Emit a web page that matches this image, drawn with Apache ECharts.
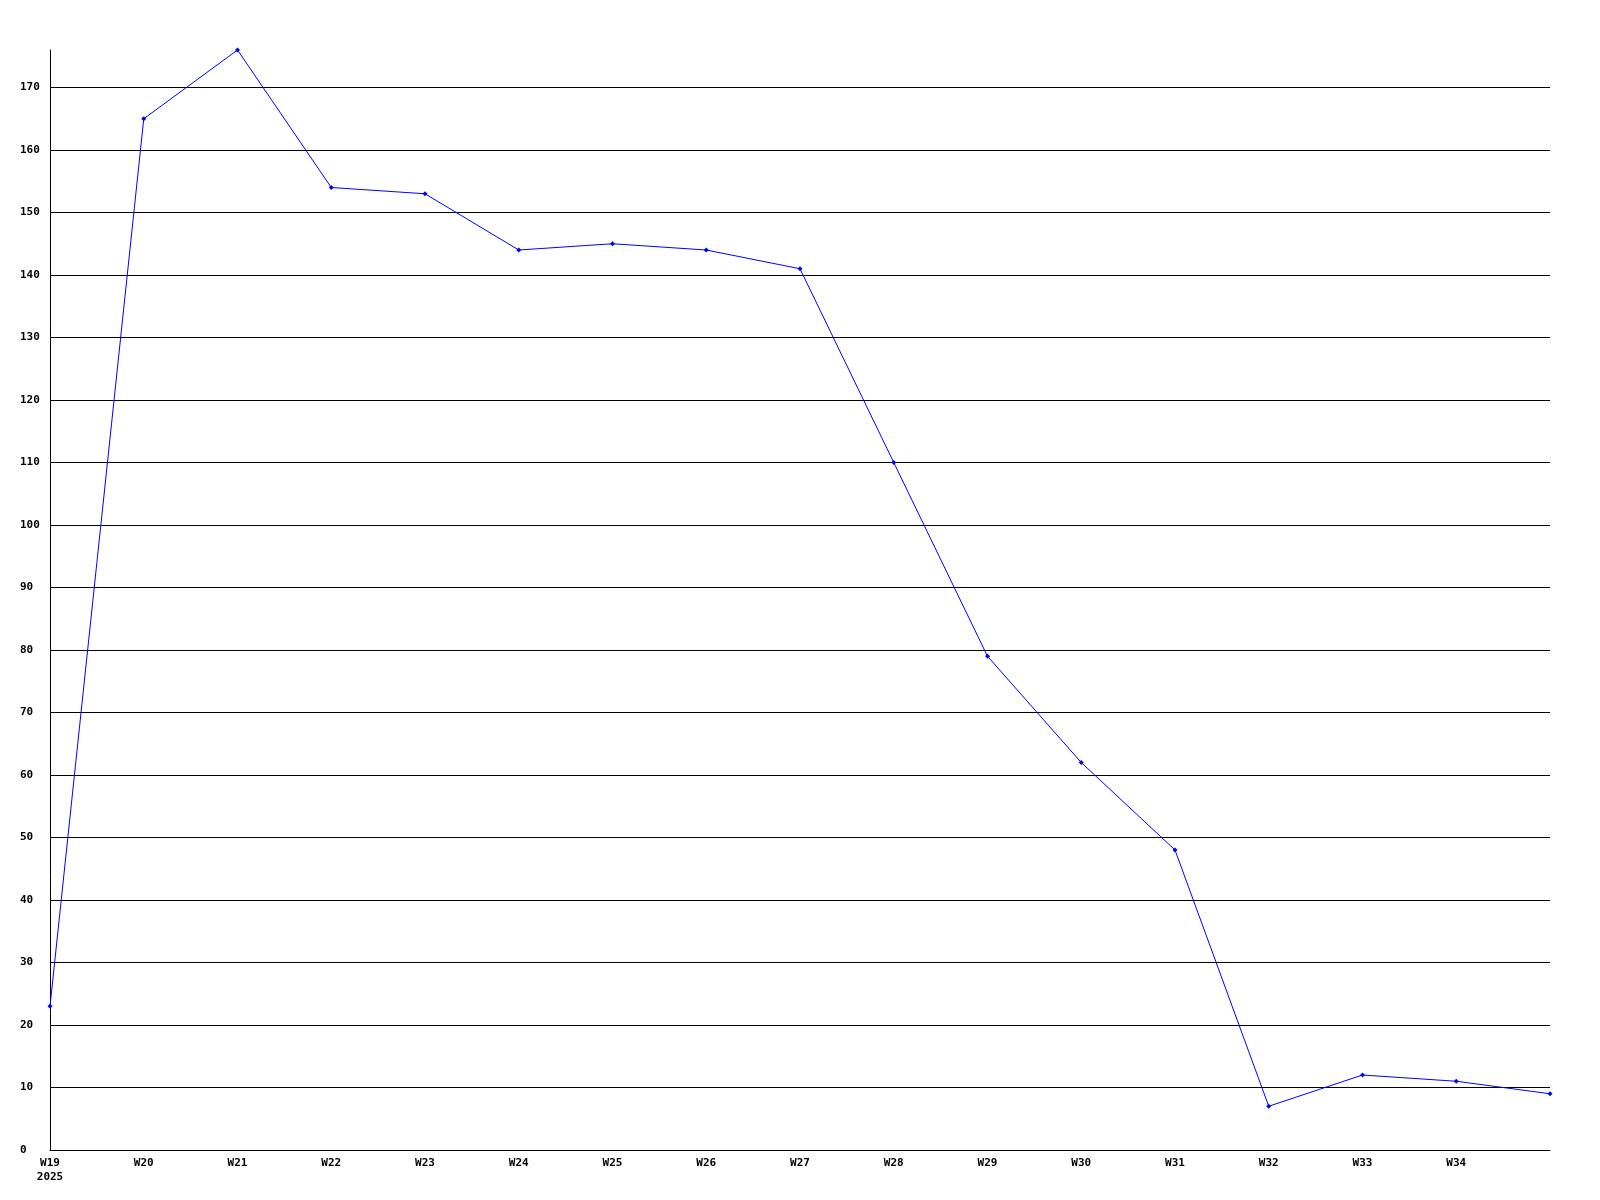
<!DOCTYPE html>
<html>
<head>
<meta charset="utf-8">
<script src="https://cdn.jsdelivr.net/npm/echarts@6/dist/echarts.min.js"></script>
<style>html,body{margin:0;padding:0;background:#fff}#c{width:1600px;height:1200px}</style>
</head>
<body>
<div id="c"></div>
<script>
const weeks = ['W19','W20','W21','W22','W23','W24','W25','W26','W27','W28','W29','W30','W31','W32','W33','W34','W35'];
const values = [23,165,176,154,153,144,145,144,141,110,79,62,48,7,12,11,9];
const yearLabel = '2025';

const splitColors = [];
for (let i = 0; i < 18; i++) splitColors.push('#000');
splitColors.push('rgba(0,0,0,0)');

const chart = echarts.init(document.getElementById('c'), null, {renderer: 'canvas'});
chart.setOption({
  animation: false,
  backgroundColor: '#fff',
  grid: {left: 50, right: 50, top: 50, bottom: 50, containLabel: false},
  xAxis: {
    type: 'category',
    data: weeks,
    boundaryGap: false,
    axisLine: {lineStyle: {color: '#000', width: 1}},
    axisTick: {show: false},
    splitLine: {show: false},
    axisLabel: {
      interval: 0,
      margin: 6,
      color: '#000',
      fontFamily: 'DejaVu Sans Mono',
      fontWeight: 'bold',
      fontSize: 11,
      lineHeight: 14,
      formatter: function (v, i) {
        if (i === weeks.length - 1) return '';
        if (i === 0) return v + '\n' + yearLabel;
        return v;
      }
    }
  },
  yAxis: {
    type: 'value',
    min: 0,
    max: 176,
    interval: 10,
    axisLine: {show: true, lineStyle: {color: '#000', width: 1}},
    axisTick: {show: false},
    splitLine: {show: true, lineStyle: {color: splitColors, width: 1}},
    axisLabel: {
      showMaxLabel: false,
      align: 'left',
      margin: 30,
      color: '#000',
      fontFamily: 'DejaVu Sans Mono',
      fontWeight: 'bold',
      fontSize: 11
    }
  },
  series: [{
    type: 'line',
    data: values,
    symbol: 'diamond',
    symbolSize: 5,
    showAllSymbol: true,
    lineStyle: {color: '#0000ff', width: 1},
    itemStyle: {color: '#0000ff'},
    z: 5
  }]
});
</script>
</body>
</html>
